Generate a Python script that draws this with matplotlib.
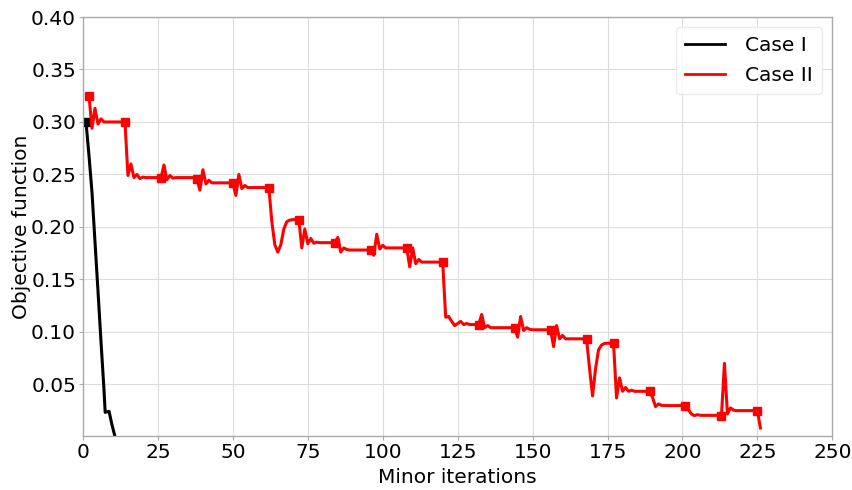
import numpy as np
import matplotlib
matplotlib.use("Agg")
import matplotlib.pyplot as plt

# Case I: objective value per minor iteration
case1_iter = [1, 2, 3, 4, 5, 6, 7, 7.4, 8.7, 9.6, 10.7, 11.5]
case1_obj = [0.300, 0.268, 0.233, 0.186, 0.139, 0.091, 0.045, 0.0234, 0.0243, 0.0123, 0.0, -0.006]

# Case II: objective value per minor iteration (starts at iteration 2)
case2_obj = [
    0.325, 0.294, 0.313, 0.298, 0.303, 0.300, 0.300, 0.300, 0.300, 0.300, 0.300, 0.300,   # 2-13
    0.300, 0.249, 0.260, 0.247, 0.250, 0.246, 0.2475, 0.247, 0.247, 0.247, 0.247, 0.247,  # 14-25
    0.2465, 0.259, 0.245, 0.249, 0.2465, 0.247, 0.247, 0.247, 0.247, 0.247, 0.247, 0.247,  # 26-37
    0.246, 0.235, 0.2545, 0.241, 0.2445, 0.242, 0.242, 0.242, 0.242, 0.242, 0.242, 0.242,  # 38-49
    0.242, 0.230, 0.250, 0.2365, 0.2395, 0.2375, 0.2375, 0.2375, 0.2375, 0.2375, 0.2375, 0.2375,  # 50-61
    0.2375, 0.205, 0.183, 0.176, 0.183, 0.198, 0.205, 0.2065, 0.207, 0.207,  # 62-71
    0.207, 0.180, 0.198, 0.184, 0.189, 0.1845, 0.1855, 0.185, 0.185, 0.185, 0.185, 0.185,  # 72-83
    0.185, 0.190, 0.176, 0.180, 0.1785, 0.178, 0.178, 0.178, 0.178, 0.178, 0.178, 0.178,  # 84-95
    0.178, 0.173, 0.193, 0.179, 0.1825, 0.180, 0.180, 0.180, 0.180, 0.180, 0.180, 0.180,  # 96-107
    0.180, 0.162, 0.180, 0.165, 0.169, 0.1665, 0.1665, 0.1665, 0.1665, 0.1665, 0.1665, 0.1665,  # 108-119
    0.1665, 0.114, 0.1147, 0.110, 0.106, 0.108, 0.110, 0.107, 0.108, 0.107, 0.107, 0.107,  # 120-131
    0.107, 0.1166, 0.104, 0.106, 0.104, 0.104, 0.104, 0.104, 0.104, 0.104, 0.104, 0.104,  # 132-143
    0.104, 0.095, 0.1147, 0.1013, 0.104, 0.1025, 0.102, 0.102, 0.102, 0.102, 0.102, 0.102,  # 144-155
    0.102, 0.086, 0.106, 0.0934, 0.0966, 0.0934, 0.0934, 0.0934, 0.0934, 0.0934, 0.0934, 0.0934,  # 156-167
    0.093, 0.065, 0.039, 0.065, 0.083, 0.0875, 0.089, 0.0892, 0.0892,  # 168-176
    0.0892, 0.037, 0.0562, 0.0434, 0.047, 0.0434, 0.0445, 0.0434, 0.0434, 0.0434, 0.0434, 0.0434,  # 177-188
    0.0434, 0.0377, 0.0288, 0.0314, 0.0300, 0.0298, 0.0298, 0.0298, 0.0298, 0.0298, 0.0298, 0.0298,  # 189-200
    0.0298, 0.0257, 0.0218, 0.0202, 0.0212, 0.0205, 0.0205, 0.0205, 0.0205, 0.0205, 0.0205, 0.0205,  # 201-212
    0.020, 0.070, 0.0218, 0.0276, 0.0255, 0.025, 0.025, 0.025, 0.025, 0.025, 0.025, 0.025,  # 213-224
    0.025, 0.0085,  # 225-226
]
case2_iter = np.arange(2, 2 + len(case2_obj))

# major iterations, where a marker is placed on the Case II curve
case2_major = [2, 14, 26, 38, 50, 62, 72, 84, 96, 108, 120, 132, 144, 156, 168, 177, 189, 201, 213, 225]

fs = 14.5

fig = plt.figure(figsize=(8.53, 4.90), dpi=100)
ax = fig.add_axes([0.0973, 0.1095, 0.8785, 0.8558])

ax.plot(case1_iter, case1_obj, color="black", lw=2.2, label="Case I",
        marker="s", markersize=6, markevery=[0])
ax.plot(case2_iter, case2_obj, color="red", lw=2.2, label="Case II",
        marker="s", markersize=6, markevery=[int(i - 2) for i in case2_major])

ax.set_xlim(0, 250)
ax.set_ylim(0.0005, 0.40)
ax.set_xticks(np.arange(0, 251, 25))
ax.set_yticks(np.arange(0.05, 0.401, 0.05))
ax.set_yticklabels([f"{v:.2f}" for v in np.arange(0.05, 0.401, 0.05)])

ax.grid(True, color="#dddddd", lw=0.8)
ax.set_axisbelow(True)
for s in ax.spines.values():
    s.set_color("#aaaaaa")
    s.set_linewidth(1.0)
ax.tick_params(axis="both", labelsize=fs, length=3, color="#aaaaaa", pad=2)

ax.set_xlabel("Minor iterations", fontsize=fs, labelpad=4)
ax.set_ylabel("Objective function", fontsize=fs, labelpad=0)

leg = ax.legend(loc="upper right", fontsize=fs, handlelength=2.0, borderpad=0.45,
                labelspacing=0.55, handletextpad=1.0, borderaxespad=0.5)
leg.get_frame().set_edgecolor("#e6e6e6")
for h in leg.get_lines():
    h.set_marker("")
    h.set_linewidth(2.0)

fig.savefig("out.png", dpi=100)
